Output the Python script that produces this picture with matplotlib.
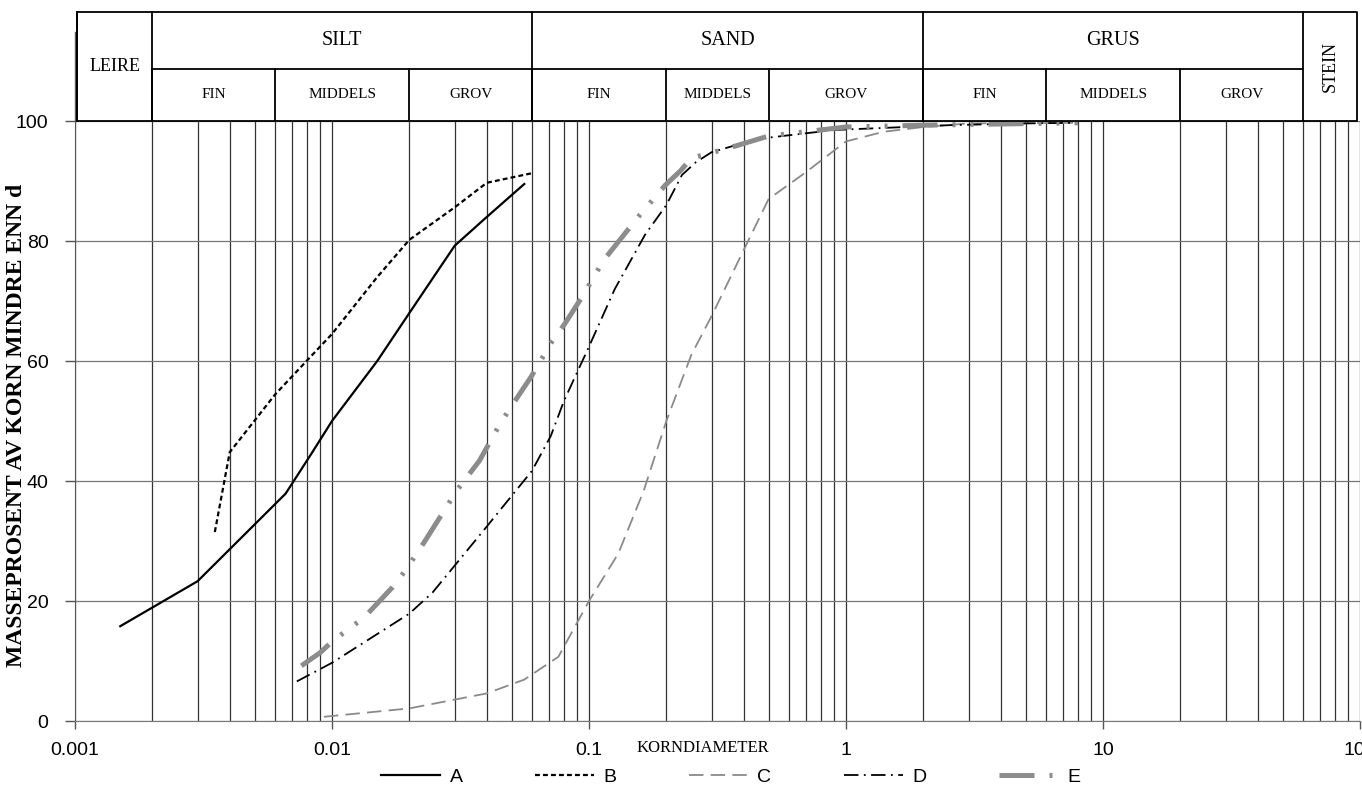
import matplotlib
matplotlib.use('Agg')
import matplotlib.pyplot as plt
import numpy as np
from matplotlib.ticker import LogLocator, NullFormatter
from matplotlib.lines import Line2D

# kornfordeling, diameter i mm og masseprosent
A_d = [0.0015, 0.003, 0.0066, 0.0083, 0.01, 0.015, 0.02, 0.03, 0.04, 0.056]
A_p = [15.8, 23.3, 37.9, 44.5, 50.0, 60.0, 68.0, 79.2, 84.0, 89.5]

B_d = [0.0035, 0.004, 0.006, 0.008, 0.01, 0.015, 0.02, 0.03, 0.04, 0.06]
B_p = [31.5, 44.8, 54.4, 60.1, 64.5, 74.0, 80.2, 85.6, 89.7, 91.3]

C_d = [0.0093, 0.02, 0.04, 0.056, 0.076, 0.1, 0.13, 0.163, 0.2, 0.25, 0.3, 0.4, 0.5,
       0.7, 1.0, 1.4, 2.0, 3.0, 8.0]
C_p = [0.7, 2.1, 4.6, 6.9, 10.7, 20.0, 27.9, 38.3, 50.0, 61.0, 67.5, 78.5, 87.0,
       91.5, 96.6, 98.2, 99.0, 99.6, 99.7]

D_d = [0.0073, 0.01, 0.02, 0.0246, 0.04, 0.06, 0.071, 0.08, 0.1, 0.126, 0.165, 0.2,
       0.23, 0.26, 0.3, 0.45, 0.9, 2.5, 5.0, 8.0]
D_p = [6.6, 9.7, 17.9, 21.4, 32.4, 41.7, 47.5, 53.4, 62.4, 72.0, 81.0, 86.0,
       91.0, 93.1, 94.8, 97.0, 98.5, 99.3, 99.6, 99.7]

E_d = [0.0076, 0.009, 0.0101, 0.0133, 0.0172, 0.0194, 0.023, 0.0308, 0.0375, 0.0449,
       0.0498, 0.0596, 0.0714, 0.0805, 0.095, 0.114, 0.156, 0.198, 0.227, 0.25, 0.35,
       0.5, 1.0, 2.0, 8.0]
E_p = [9.2, 11.4, 13.4, 17.2, 22.3, 25.2, 30.0, 38.6, 43.4, 49.4,
       52.4, 57.4, 63.1, 66.2, 71.0, 76.8, 84.1, 89.3, 91.7, 93.8, 95.5,
       97.5, 99.0, 99.3, 99.7]

# tabellhode: hovedklasser og underklasser (grenser i mm)
hoved = [('LEIRE', 0.00102, 0.002), ('SILT', 0.002, 0.06), ('SAND', 0.06, 2),
         ('GRUS', 2, 60), ('STEIN', 60, 97)]
under = [('FIN', 0.002, 0.006), ('MIDDELS', 0.006, 0.02), ('GROV', 0.02, 0.06),
         ('FIN', 0.06, 0.2), ('MIDDELS', 0.2, 0.5), ('GROV', 0.5, 2),
         ('FIN', 2, 6), ('MIDDELS', 6, 20), ('GROV', 20, 60)]

serif = 'Liberation Serif'
sans = 'Liberation Sans'

fig = plt.figure(figsize=(13.62, 7.92), dpi=100)
ax = fig.add_axes([75 / 1362, 71 / 792, 1285 / 1362, 600 / 792])

ax.set_xscale('log')
ax.set_xlim(0.001, 100)
ax.set_ylim(0, 100)

ax.plot(A_d, A_p, color='black', lw=1.6, label='A')
ax.plot(B_d, B_p, color='black', lw=1.6, linestyle=(0, (2.2, 1.4)), label='B')
ax.plot(C_d, C_p, color='#8a8a8a', lw=1.3, linestyle=(0, (8, 4)), label='C')
ax.plot(D_d, D_p, color='black', lw=1.3, linestyle=(0, (8, 3, 1, 3)), label='D')
ax.plot(E_d, E_p, color='#8c8c8c', lw=3.6,
        linestyle=(0, (7, 3, 0.6, 3, 0.6, 3)), label='E')

# akser og rutenett
ax.set_xticks([0.001, 0.01, 0.1, 1, 10, 100])
ax.set_xticklabels(['0.001', '0.01', '0.1', '1', '10', '100'])
ax.xaxis.set_minor_locator(LogLocator(base=10, subs=np.arange(2, 10)))
ax.xaxis.set_minor_formatter(NullFormatter())
ax.set_yticks(range(0, 101, 20))
ax.grid(which='both', axis='x', color='#333333', lw=0.9)
ax.grid(which='major', axis='y', color='#777777', lw=0.9)
ax.tick_params(axis='x', which='major', length=6, width=1, pad=9, labelsize=14,
               color='#555555')
ax.tick_params(axis='x', which='minor', length=0)
ax.tick_params(axis='y', length=7, width=1, pad=12, labelsize=14, color='#555555')
for lab in ax.get_xticklabels() + ax.get_yticklabels():
    lab.set_fontfamily(sans)
for s in ['top', 'right']:
    ax.spines[s].set_visible(False)
ax.spines['left'].set_color('#555555')
ax.spines['bottom'].set_color('#777777')

# venstre akselinje fortsetter opp langs tabellhodet
ax.add_line(Line2D([0, 0], [1, 1.148], transform=ax.transAxes, color='#555555',
                   lw=1, clip_on=False))

# tabellhode over diagrammet
tr = ax.get_xaxis_transform()
y0, ym, y1 = 1.0, 1.087, 1.182
hk = dict(color='black', lw=1.3, transform=tr, clip_on=False)
x_left, x_right = hoved[0][1], hoved[-1][2]
ax.plot([x_left, x_right, x_right, x_left, x_left], [y0, y0, y1, y1, y0], **hk)
for navn, a, b in hoved:
    ax.plot([a, a], [y0, y1], **hk)
    if navn in ('LEIRE', 'STEIN'):
        ax.text(np.sqrt(a * b), (y0 + y1) / 2, navn, transform=tr, ha='center',
                va='center', fontsize=13, family=serif,
                rotation=90 if navn == 'STEIN' else 0)
    else:
        ax.plot([a, b], [ym, ym], **hk)
        ax.text(np.sqrt(a * b), (ym + y1) / 2, navn, transform=tr, ha='center',
                va='center', fontsize=14.5, family=serif)
for navn, a, b in under:
    ax.plot([a, a], [y0, ym], **hk)
    ax.text(np.sqrt(a * b), (y0 + ym) / 2, navn, transform=tr, ha='center',
            va='center', fontsize=11, family=serif)

fig.text(17 / 1362, 1 - 425 / 792, 'MASSEPROSENT AV KORN MINDRE ENN d',
         rotation=90, ha='center', va='center', fontsize=17, fontweight='bold',
         family=serif)
fig.text(703 / 1362, 1 - 748 / 792, 'KORNDIAMETER', ha='center', va='center',
         fontsize=12, family=serif)

leg = fig.legend(loc='center', bbox_to_anchor=(731 / 1362, 1 - 777 / 792), ncol=5,
                 frameon=False, handlelength=3, handletextpad=0.5,
                 columnspacing=3.75, prop={'family': sans, 'size': 14})

fig.savefig('out.png', dpi=100)
